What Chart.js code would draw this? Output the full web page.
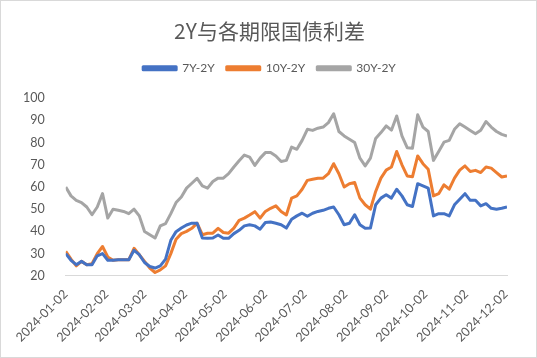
<!DOCTYPE html>
<html>
<head>
<meta charset="utf-8">
<script src="https://cdn.jsdelivr.net/npm/chart.js@4.4.1/dist/chart.umd.min.js"></script>
<style>
html, body { margin: 0; padding: 0; background: #fff; }
#wrap { position: relative; width: 535px; height: 356px; border: 1px solid #d9d9d9; }
</style>
</head>
<body>
<div id="wrap"><canvas id="lineChart" width="535" height="356"></canvas></div>
<script>
// sample dates, every 4 days
var dates = ["2024-01-02","2024-01-06","2024-01-10","2024-01-14","2024-01-18","2024-01-22","2024-01-26","2024-01-30",
"2024-02-03","2024-02-07","2024-02-11","2024-02-15","2024-02-19","2024-02-23","2024-02-27",
"2024-03-02","2024-03-06","2024-03-10","2024-03-14","2024-03-18","2024-03-22","2024-03-26","2024-03-30",
"2024-04-03","2024-04-07","2024-04-11","2024-04-15","2024-04-19","2024-04-23","2024-04-27",
"2024-05-01","2024-05-05","2024-05-09","2024-05-13","2024-05-17","2024-05-21","2024-05-25","2024-05-29",
"2024-06-02","2024-06-06","2024-06-10","2024-06-14","2024-06-18","2024-06-22","2024-06-26","2024-06-30",
"2024-07-04","2024-07-08","2024-07-12","2024-07-16","2024-07-20","2024-07-24","2024-07-28",
"2024-08-01","2024-08-05","2024-08-09","2024-08-13","2024-08-17","2024-08-21","2024-08-25","2024-08-29",
"2024-09-02","2024-09-06","2024-09-10","2024-09-14","2024-09-18","2024-09-22","2024-09-26","2024-09-30",
"2024-10-04","2024-10-08","2024-10-12","2024-10-16","2024-10-20","2024-10-24","2024-10-28",
"2024-11-01","2024-11-05","2024-11-09","2024-11-13","2024-11-17","2024-11-21","2024-11-25","2024-11-29",
"2024-12-03"];

var s7y = [30,27,25,26.5,25,25,29,30,27,27,27.2,27.2,27.2,31.5,29.5,26,24.2,23.5,24.5,27.5,
36,39.9,41.5,42.9,43.7,43.7,37,36.9,37,38.4,36.9,36.9,39,40.5,42.5,43,42.5,41,44,44.2,
43.7,43,41.5,45.5,47,48.2,46.8,48.2,49,49.5,50.4,51,47.5,43,43.7,47.5,43,41.4,41.5,52,
55,56.5,55,59,56,52,51.2,61.5,60.5,59.5,47,48,48,47,52,54.5,57,54,54,51.5,
52.5,50.4,50,50.4,51];

var s10y = [31,27.5,24.5,26.5,25,25.5,30,33.2,28.5,27,27.2,27.2,27.2,32.4,29.5,26.5,23.5,21.5,22.7,24.5,
30,36.5,39,40,41.4,43.7,38.5,39.2,39.2,41.4,39.5,39.2,41.5,45,46,47.4,48.9,46,49,50.4,
51.5,49,47.4,55,56,59,63,63.5,63.9,64,66,70.5,66,60,61.5,62,55,52,50,58,
64,67.6,69,76,70,65,64.6,74,70.5,68,56,57,61,59,64,67.6,69.5,67,67.5,66.5,
69,68.5,66.5,64.5,65];

var s30y = [60,56,54,53,51,47.5,51,57,46,50,49.5,49,48,50,47,40,38.5,37,42.5,43.5,
48,53,55.5,59.5,61.7,63.9,60.5,59.5,62.5,64,64,66,69,71.8,74.4,73.5,69.7,73,75.5,75.5,
74,71.5,72,78,77,81,86,85.5,86.5,87,89,93,85,83,81.5,80,73,69.5,73,81.9,
84.5,87.5,85.6,92,83,77.7,77.5,92.5,87,85,72,76,80.2,81,86,88.5,87,85.5,84,85.6,
89.5,87,85,83.7,83];

var tickDates = ["2024-01-02","2024-02-02","2024-03-02","2024-04-02","2024-05-02","2024-06-02",
"2024-07-02","2024-08-02","2024-09-02","2024-10-02","2024-11-02","2024-12-02"];

var DAY = 86400000;
var t0 = Date.parse(dates[0]);
function dayOf(d) { return Math.round((Date.parse(d) - t0) / DAY); }
function pts(arr) { return arr.map(function (v, i) { return { x: dayOf(dates[i]), y: v }; }); }
var tickDays = tickDates.map(dayOf);
var lastDay = dayOf(dates[dates.length - 1]);

var txt = '#595959';
var font = "Lato, 'Noto Sans CJK SC', sans-serif";

// more room under the legend, and centre title + legend on the whole canvas
var legendGap = {
  id: 'legendGap',
  beforeInit: function (chart) {
    var fit = chart.legend.fit;
    chart.legend.fit = function () {
      fit.bind(chart.legend)();
      this.height += 14;
    };
  },
  afterLayout: function (chart) {
    [chart.legend, chart.titleBlock].forEach(function (b) {
      b.left += 11;
      b.right += 11;
    });
  }
};

var ctxL = document.getElementById("lineChart").getContext('2d');
var myLineChart = new Chart(ctxL, {
  type: 'line',
  plugins: [legendGap],
  data: {
    datasets: [{
      label: "7Y-2Y",
      data: pts(s7y),
      borderColor: '#4472C4',
      backgroundColor: '#4472C4',
      borderWidth: 3
    },
    {
      label: "10Y-2Y",
      data: pts(s10y),
      borderColor: '#ED7D31',
      backgroundColor: '#ED7D31',
      borderWidth: 3
    },
    {
      label: "30Y-2Y",
      data: pts(s30y),
      borderColor: '#A5A5A5',
      backgroundColor: '#A5A5A5',
      borderWidth: 3
    }]
  },
  options: {
    responsive: false,
    animation: false,
    elements: { point: { radius: 0 }, line: { tension: 0, borderJoinStyle: 'round' } },
    layout: { padding: { left: 9, right: 29, top: 8, bottom: 9 } },
    plugins: {
      title: {
        display: true,
        text: "2Y与各期限国债利差",
        color: txt,
        font: { family: "'Noto Sans CJK SC', sans-serif", size: 21, weight: 'normal' },
        padding: { top: 9, bottom: 7 }
      },
      legend: {
        labels: {
          color: txt,
          font: { family: font, size: 12 },
          boxWidth: 33,
          boxHeight: 3,
          padding: 12
        }
      },
      tooltip: { enabled: false }
    },
    scales: {
      x: {
        type: 'linear',
        min: 0,
        max: lastDay,
        grid: { display: false },
        border: { color: '#d9d9d9' },
        afterBuildTicks: function (axis) {
          axis.ticks = tickDays.map(function (d) { return { value: d }; });
        },
        ticks: {
          autoSkip: false,
          maxRotation: 45,
          minRotation: 45,
          color: txt,
          font: { family: font, size: 12.5 },
          callback: function (v) { return tickDates[tickDays.indexOf(v)]; }
        }
      },
      y: {
        min: 20,
        max: 100,
        grid: { display: false },
        border: { display: false },
        ticks: {
          stepSize: 10,
          color: txt,
          padding: 13,
          font: { family: font, size: 12.5 }
        }
      }
    }
  }
});
</script>
</body>
</html>
